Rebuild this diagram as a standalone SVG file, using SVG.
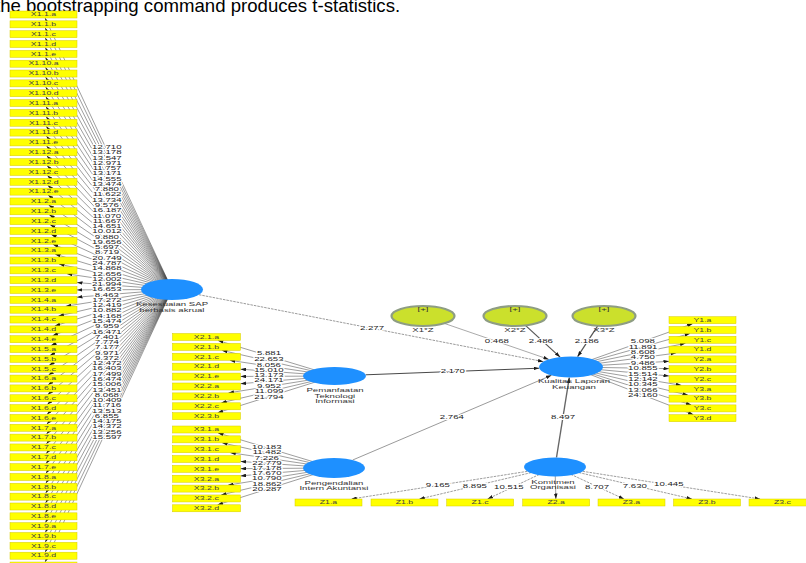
<svg xmlns="http://www.w3.org/2000/svg" width="806" height="563" viewBox="0 0 806 563">
<defs>
<marker id="a" viewBox="0 0 6 4" refX="6" refY="2" markerWidth="5.5" markerHeight="3.6" markerUnits="userSpaceOnUse" orient="auto" preserveAspectRatio="none"><path d="M0,0L6,2L0,4z" fill="#1a1a1a"/></marker>
</defs>
<style>
text{font-family:"Liberation Sans",Arial,sans-serif}
.b text,.v,.lv text,.m text{transform-box:fill-box;transform-origin:center;transform:scaleX(1.75)}
.b rect{fill:#ffff00;stroke:#d6cc00;stroke-width:0.5}
.b text{font-size:5px;fill:#444;text-anchor:middle}
.c path{fill:none;stroke:#3c3c3c;stroke-width:0.5;marker-end:url(#a)}
.c path.d{stroke-dasharray:2.5 1}
.v{font-size:5.5px;fill:#222;text-anchor:middle;stroke:#fff;stroke-width:1.8;stroke-linejoin:round;paint-order:stroke}
.lv ellipse{fill:#1e90ff}
.lv text,.m text{font-size:5.5px;fill:#333;text-anchor:middle}
.m ellipse{fill:#cbe02c;stroke:#8e9d83;stroke-width:2.2}
</style>
<rect width="806" height="563" fill="#fff"/>
<text x="-5" y="11.5" font-family="Liberation Serif, serif" font-size="18.6" fill="#000">the bootstrapping command produces t-statistics.</text>

<g id="connectors" class="c">
<path d="M172 289.5L45.1 18"/><path d="M172 289.5L45.2 27.84"/><path d="M172 289.5L45.26 37.68"/><path d="M172 289.5L45.33 47.52"/><path d="M172 289.5L45.41 57.36"/><path d="M172 289.5L45.49 67.2"/><path d="M172 289.5L45.58 77.04"/><path d="M172 289.5L45.68 86.88"/><path d="M172 289.5L45.79 96.72"/><path d="M172 289.5L45.91 106.56"/><path d="M172 289.5L46.05 116.4"/><path d="M172 289.5L46.2 126.24"/><path d="M172 289.5L46.37 136.08"/><path d="M172 289.5L46.56 145.92"/><path d="M172 289.5L46.78 155.76"/><path d="M172 289.5L47.03 165.6"/><path d="M172 289.5L47.33 175.44"/><path d="M172 289.5L47.68 185.28"/><path d="M172 289.5L48.09 195.12"/><path d="M172 289.5L48.61 204.96"/><path d="M172 289.5L49.25 214.8"/><path d="M172 289.5L50.08 224.64"/><path d="M172 289.5L51.19 234.48"/><path d="M172 289.5L52.74 244.32"/><path d="M172 289.5L55.08 254.16"/><path d="M172 289.5L59.01 264"/><path d="M172 289.5L66.97 273.84"/><path d="M172 289.5L77 282.61"/><path d="M172 289.5L77 289.88"/><path d="M172 289.5L77 297.16"/><path d="M172 289.5L65.77 306.2"/><path d="M172 289.5L58.47 316.04"/><path d="M172 289.5L54.78 325.88"/><path d="M172 289.5L52.55 335.72"/><path d="M172 289.5L51.05 345.56"/><path d="M172 289.5L49.98 355.4"/><path d="M172 289.5L49.18 365.24"/><path d="M172 289.5L48.55 375.08"/><path d="M172 289.5L48.05 384.92"/><path d="M172 289.5L47.64 394.76"/><path d="M172 289.5L47.29 404.6"/><path d="M172 289.5L47 414.44"/><path d="M172 289.5L46.75 424.28"/><path d="M172 289.5L46.54 434.12"/><path d="M172 289.5L46.35 443.96"/><path d="M172 289.5L46.18 453.8"/><path d="M172 289.5L46.03 463.64"/><path d="M172 289.5L45.9 473.48"/><path d="M172 289.5L45.78 483.32"/><path d="M172 289.5L45.67 493.16"/><path d="M172 289.5L45.57 503"/><path d="M172 289.5L45.48 512.84"/><path d="M172 289.5L45.4 522.68"/><path d="M172 289.5L45.32 532.52"/><path d="M172 289.5L45.25 542.36"/><path d="M172 289.5L45.19 552.2"/><path d="M172 289.5L45.13 562.04"/>

<path d="M334.5 376L217.99 340.5"/><path d="M334.5 376L221.9 350.4"/><path d="M334.5 376L229.83 360.3"/><path d="M334.5 376L240.5 369.17"/><path d="M334.5 376L240.5 376.44"/><path d="M334.5 376L240.5 383.71"/><path d="M334.5 376L228.46 392.9"/><path d="M334.5 376L221.29 402.8"/><path d="M334.5 376L217.64 412.7"/>

<path d="M334 468L218.09 433"/><path d="M334 468L222.08 442.85"/><path d="M334 468L230.24 452.7"/><path d="M334 468L240.5 461.44"/><path d="M334 468L240.5 468.66"/><path d="M334 468L240.5 475.88"/><path d="M334 468L228.16 485.1"/><path d="M334 468L221.16 494.95"/><path d="M334 468L217.57 504.8"/>

<path d="M571 367L692.67 323.7"/><path d="M571 367L690.06 333.5"/><path d="M571 367L685.58 343.3"/><path d="M571 367L676.05 353.1"/><path d="M571 367L669 361.34"/><path d="M571 367L669 368.64"/><path d="M571 367L669 375.94"/><path d="M571 367L681.39 385.3"/><path d="M571 367L687.94 395.1"/><path d="M571 367L691.38 404.9"/><path d="M571 367L693.51 414.7"/>

<path class="d" d="M555 467L351.3 499"/><path class="d" d="M555 467L419.3 499"/><path class="d" d="M555 467L487.6 499"/><path d="M555 467L555.9 499"/><path class="d" d="M555 467L624 499"/><path class="d" d="M555 467L692 499"/><path class="d" d="M555 467L760.1 499"/>

<path class="d" d="M198.9 294.7L543.5 361.65" style="stroke:#555;stroke-width:0.6"/>
<path d="M365.7 374.8L539.2 368.2" style="stroke:#333;stroke-width:0.9"/>
<path d="M352.7 460L551.5 375.3" style="stroke:#555;stroke-width:0.6"/>
<path d="M556.5 457.5L569.3 377.5" style="stroke:#666;stroke-width:1.4"/>
<path d="M444.3 323.4L548.9 359.4" style="stroke:#555;stroke-width:0.5"/>
<path d="M525.4 325.4L560.1 357.1" style="stroke:#555;stroke-width:1.2"/>
<path d="M597.7 325.8L577.6 356.7" style="stroke:#555;stroke-width:1.2"/>

<text class="v" x="107" y="149">12.710</text><text class="v" x="107" y="154.27">13.178</text><text class="v" x="107" y="159.55">13.547</text><text class="v" x="107" y="164.82">12.971</text><text class="v" x="107" y="170.09">11.757</text><text class="v" x="107" y="175.36">13.171</text><text class="v" x="107" y="180.64">14.555</text><text class="v" x="107" y="185.91">13.474</text><text class="v" x="107" y="191.18">7.880</text><text class="v" x="107" y="196.45">11.622</text><text class="v" x="107" y="201.73">13.734</text><text class="v" x="107" y="207">9.576</text><text class="v" x="107" y="212.27">16.187</text><text class="v" x="107" y="217.55">11.070</text><text class="v" x="107" y="222.82">11.667</text><text class="v" x="107" y="228.09">14.651</text><text class="v" x="107" y="233.36">10.012</text><text class="v" x="107" y="238.64">9.880</text><text class="v" x="107" y="243.91">19.656</text><text class="v" x="107" y="249.18">5.697</text><text class="v" x="107" y="254.45">8.719</text><text class="v" x="107" y="259.73">20.749</text><text class="v" x="107" y="265">24.787</text><text class="v" x="107" y="270.27">14.868</text><text class="v" x="107" y="275.55">12.656</text><text class="v" x="107" y="280.82">12.002</text><text class="v" x="107" y="286.09">21.994</text><text class="v" x="107" y="291.36">16.653</text><text class="v" x="107" y="296.64">8.463</text><text class="v" x="107" y="301.91">17.272</text><text class="v" x="107" y="307.18">12.419</text><text class="v" x="107" y="312.45">10.882</text><text class="v" x="107" y="317.73">14.168</text><text class="v" x="107" y="323">15.474</text><text class="v" x="107" y="328.27">9.959</text><text class="v" x="107" y="333.55">16.471</text><text class="v" x="107" y="338.82">7.401</text><text class="v" x="107" y="344.09">7.774</text><text class="v" x="107" y="349.36">7.177</text><text class="v" x="107" y="354.64">9.971</text><text class="v" x="107" y="359.91">9.372</text><text class="v" x="107" y="365.18">12.472</text><text class="v" x="107" y="370.45">16.403</text><text class="v" x="107" y="375.73">17.499</text><text class="v" x="107" y="381">16.474</text><text class="v" x="107" y="386.27">15.006</text><text class="v" x="107" y="391.55">13.451</text><text class="v" x="107" y="396.82">8.068</text><text class="v" x="107" y="402.09">10.409</text><text class="v" x="107" y="407.36">11.716</text><text class="v" x="107" y="412.64">13.513</text><text class="v" x="107" y="417.91">6.855</text><text class="v" x="107" y="423.18">14.175</text><text class="v" x="107" y="428.45">14.372</text><text class="v" x="107" y="433.73">13.256</text><text class="v" x="107" y="439">15.597</text>

<text class="v" x="269" y="355">5.881</text><text class="v" x="269" y="361">22.653</text><text class="v" x="269" y="367">8.056</text><text class="v" x="269" y="372">15.010</text><text class="v" x="269" y="377">13.173</text><text class="v" x="269" y="382">24.171</text><text class="v" x="269" y="388">9.952</text><text class="v" x="269" y="393">11.099</text><text class="v" x="269" y="399">21.794</text>

<text class="v" x="267" y="448.7">10.183</text><text class="v" x="267" y="454">11.482</text><text class="v" x="267" y="460">7.226</text><text class="v" x="267" y="465">22.779</text><text class="v" x="267" y="470">17.178</text><text class="v" x="267" y="475">17.670</text><text class="v" x="267" y="480">10.790</text><text class="v" x="267" y="486">18.862</text><text class="v" x="267" y="491">20.287</text>

<text class="v" x="643" y="343.3">5.098</text><text class="v" x="643" y="348.7">11.891</text><text class="v" x="643" y="354">8.608</text><text class="v" x="643" y="359.4">4.750</text><text class="v" x="643" y="364.8">9.486</text><text class="v" x="643" y="370.2">10.855</text><text class="v" x="643" y="375.6">15.514</text><text class="v" x="643" y="381">12.142</text><text class="v" x="643" y="386.4">10.345</text><text class="v" x="643" y="391.8">13.066</text><text class="v" x="643" y="397.2">24.160</text>

<text class="v" x="438" y="487.4">9.165</text><text class="v" x="475" y="488">8.895</text><text class="v" x="509" y="489">10.515</text><text class="v" x="597" y="489">8.707</text><text class="v" x="635" y="488">7.630</text><text class="v" x="669" y="486.4">10.445</text>

<text class="v" x="372" y="330.3">2.277</text>
<text class="v" x="453" y="373.5">2.170</text>
<text class="v" x="452" y="419.5">2.764</text>
<text class="v" x="563" y="419.5">8.497</text>
<text class="v" x="497" y="343.4">0.468</text>
<text class="v" x="541" y="343.4">2.486</text>
<text class="v" x="587" y="343.4">2.186</text>
</g>

<g id="X1_1_a" class="b"><rect x="10" y="11" width="67" height="7"/><text x="43.5" y="16.3">X1.1.a</text></g>
<g id="X1_1_b" class="b"><rect x="10" y="20.84" width="67" height="7"/><text x="43.5" y="26.14">X1.1.b</text></g>
<g id="X1_1_c" class="b"><rect x="10" y="30.68" width="67" height="7"/><text x="43.5" y="35.98">X1.1.c</text></g>
<g id="X1_1_d" class="b"><rect x="10" y="40.52" width="67" height="7"/><text x="43.5" y="45.82">X1.1.d</text></g>
<g id="X1_1_e" class="b"><rect x="10" y="50.36" width="67" height="7"/><text x="43.5" y="55.66">X1.1.e</text></g>
<g id="X1_10_a" class="b"><rect x="10" y="60.2" width="67" height="7"/><text x="43.5" y="65.5">X1.10.a</text></g>
<g id="X1_10_b" class="b"><rect x="10" y="70.04" width="67" height="7"/><text x="43.5" y="75.34">X1.10.b</text></g>
<g id="X1_10_c" class="b"><rect x="10" y="79.88" width="67" height="7"/><text x="43.5" y="85.18">X1.10.c</text></g>
<g id="X1_10_d" class="b"><rect x="10" y="89.72" width="67" height="7"/><text x="43.5" y="95.02">X1.10.d</text></g>
<g id="X1_11_a" class="b"><rect x="10" y="99.56" width="67" height="7"/><text x="43.5" y="104.86">X1.11.a</text></g>
<g id="X1_11_b" class="b"><rect x="10" y="109.4" width="67" height="7"/><text x="43.5" y="114.7">X1.11.b</text></g>
<g id="X1_11_c" class="b"><rect x="10" y="119.24" width="67" height="7"/><text x="43.5" y="124.54">X1.11.c</text></g>
<g id="X1_11_d" class="b"><rect x="10" y="129.08" width="67" height="7"/><text x="43.5" y="134.38">X1.11.d</text></g>
<g id="X1_11_e" class="b"><rect x="10" y="138.92" width="67" height="7"/><text x="43.5" y="144.22">X1.11.e</text></g>
<g id="X1_12_a" class="b"><rect x="10" y="148.76" width="67" height="7"/><text x="43.5" y="154.06">X1.12.a</text></g>
<g id="X1_12_b" class="b"><rect x="10" y="158.6" width="67" height="7"/><text x="43.5" y="163.9">X1.12.b</text></g>
<g id="X1_12_c" class="b"><rect x="10" y="168.44" width="67" height="7"/><text x="43.5" y="173.74">X1.12.c</text></g>
<g id="X1_12_d" class="b"><rect x="10" y="178.28" width="67" height="7"/><text x="43.5" y="183.58">X1.12.d</text></g>
<g id="X1_12_e" class="b"><rect x="10" y="188.12" width="67" height="7"/><text x="43.5" y="193.42">X1.12.e</text></g>
<g id="X1_2_a" class="b"><rect x="10" y="197.96" width="67" height="7"/><text x="43.5" y="203.26">X1.2.a</text></g>
<g id="X1_2_b" class="b"><rect x="10" y="207.8" width="67" height="7"/><text x="43.5" y="213.1">X1.2.b</text></g>
<g id="X1_2_c" class="b"><rect x="10" y="217.64" width="67" height="7"/><text x="43.5" y="222.94">X1.2.c</text></g>
<g id="X1_2_d" class="b"><rect x="10" y="227.48" width="67" height="7"/><text x="43.5" y="232.78">X1.2.d</text></g>
<g id="X1_2_e" class="b"><rect x="10" y="237.32" width="67" height="7"/><text x="43.5" y="242.62">X1.2.e</text></g>
<g id="X1_3_a" class="b"><rect x="10" y="247.16" width="67" height="7"/><text x="43.5" y="252.46">X1.3.a</text></g>
<g id="X1_3_b" class="b"><rect x="10" y="257" width="67" height="7"/><text x="43.5" y="262.3">X1.3.b</text></g>
<g id="X1_3_c" class="b"><rect x="10" y="266.84" width="67" height="7"/><text x="43.5" y="272.14">X1.3.c</text></g>
<g id="X1_3_d" class="b"><rect x="10" y="276.68" width="67" height="7"/><text x="43.5" y="281.98">X1.3.d</text></g>
<g id="X1_3_e" class="b"><rect x="10" y="286.52" width="67" height="7"/><text x="43.5" y="291.82">X1.3.e</text></g>
<g id="X1_4_a" class="b"><rect x="10" y="296.36" width="67" height="7"/><text x="43.5" y="301.66">X1.4.a</text></g>
<g id="X1_4_b" class="b"><rect x="10" y="306.2" width="67" height="7"/><text x="43.5" y="311.5">X1.4.b</text></g>
<g id="X1_4_c" class="b"><rect x="10" y="316.04" width="67" height="7"/><text x="43.5" y="321.34">X1.4.c</text></g>
<g id="X1_4_d" class="b"><rect x="10" y="325.88" width="67" height="7"/><text x="43.5" y="331.18">X1.4.d</text></g>
<g id="X1_4_e" class="b"><rect x="10" y="335.72" width="67" height="7"/><text x="43.5" y="341.02">X1.4.e</text></g>
<g id="X1_5_a" class="b"><rect x="10" y="345.56" width="67" height="7"/><text x="43.5" y="350.86">X1.5.a</text></g>
<g id="X1_5_b" class="b"><rect x="10" y="355.4" width="67" height="7"/><text x="43.5" y="360.7">X1.5.b</text></g>
<g id="X1_5_c" class="b"><rect x="10" y="365.24" width="67" height="7"/><text x="43.5" y="370.54">X1.5.c</text></g>
<g id="X1_6_a" class="b"><rect x="10" y="375.08" width="67" height="7"/><text x="43.5" y="380.38">X1.6.a</text></g>
<g id="X1_6_b" class="b"><rect x="10" y="384.92" width="67" height="7"/><text x="43.5" y="390.22">X1.6.b</text></g>
<g id="X1_6_c" class="b"><rect x="10" y="394.76" width="67" height="7"/><text x="43.5" y="400.06">X1.6.c</text></g>
<g id="X1_6_d" class="b"><rect x="10" y="404.6" width="67" height="7"/><text x="43.5" y="409.9">X1.6.d</text></g>
<g id="X1_6_e" class="b"><rect x="10" y="414.44" width="67" height="7"/><text x="43.5" y="419.74">X1.6.e</text></g>
<g id="X1_7_a" class="b"><rect x="10" y="424.28" width="67" height="7"/><text x="43.5" y="429.58">X1.7.a</text></g>
<g id="X1_7_b" class="b"><rect x="10" y="434.12" width="67" height="7"/><text x="43.5" y="439.42">X1.7.b</text></g>
<g id="X1_7_c" class="b"><rect x="10" y="443.96" width="67" height="7"/><text x="43.5" y="449.26">X1.7.c</text></g>
<g id="X1_7_d" class="b"><rect x="10" y="453.8" width="67" height="7"/><text x="43.5" y="459.1">X1.7.d</text></g>
<g id="X1_7_e" class="b"><rect x="10" y="463.64" width="67" height="7"/><text x="43.5" y="468.94">X1.7.e</text></g>
<g id="X1_8_a" class="b"><rect x="10" y="473.48" width="67" height="7"/><text x="43.5" y="478.78">X1.8.a</text></g>
<g id="X1_8_b" class="b"><rect x="10" y="483.32" width="67" height="7"/><text x="43.5" y="488.62">X1.8.b</text></g>
<g id="X1_8_c" class="b"><rect x="10" y="493.16" width="67" height="7"/><text x="43.5" y="498.46">X1.8.c</text></g>
<g id="X1_8_d" class="b"><rect x="10" y="503" width="67" height="7"/><text x="43.5" y="508.3">X1.8.d</text></g>
<g id="X1_8_e" class="b"><rect x="10" y="512.84" width="67" height="7"/><text x="43.5" y="518.14">X1.8.e</text></g>
<g id="X1_9_a" class="b"><rect x="10" y="522.68" width="67" height="7"/><text x="43.5" y="527.98">X1.9.a</text></g>
<g id="X1_9_b" class="b"><rect x="10" y="532.52" width="67" height="7"/><text x="43.5" y="537.82">X1.9.b</text></g>
<g id="X1_9_c" class="b"><rect x="10" y="542.36" width="67" height="7"/><text x="43.5" y="547.66">X1.9.c</text></g>
<g id="X1_9_d" class="b"><rect x="10" y="552.2" width="67" height="7"/><text x="43.5" y="557.5">X1.9.d</text></g>
<g id="X1_9_e" class="b"><rect x="10" y="562.04" width="67" height="7"/><text x="43.5" y="567.34">X1.9.e</text></g>

<g id="X2_1_a" class="b"><rect x="172.5" y="333.5" width="68" height="7"/><text x="206.5" y="338.8">X2.1.a</text></g>
<g id="X2_1_b" class="b"><rect x="172.5" y="343.4" width="68" height="7"/><text x="206.5" y="348.7">X2.1.b</text></g>
<g id="X2_1_c" class="b"><rect x="172.5" y="353.3" width="68" height="7"/><text x="206.5" y="358.6">X2.1.c</text></g>
<g id="X2_1_d" class="b"><rect x="172.5" y="363.2" width="68" height="7"/><text x="206.5" y="368.5">X2.1.d</text></g>
<g id="X2_1_e" class="b"><rect x="172.5" y="373.1" width="68" height="7"/><text x="206.5" y="378.4">X2.1.e</text></g>
<g id="X2_2_a" class="b"><rect x="172.5" y="383" width="68" height="7"/><text x="206.5" y="388.3">X2.2.a</text></g>
<g id="X2_2_b" class="b"><rect x="172.5" y="392.9" width="68" height="7"/><text x="206.5" y="398.2">X2.2.b</text></g>
<g id="X2_2_c" class="b"><rect x="172.5" y="402.8" width="68" height="7"/><text x="206.5" y="408.1">X2.2.c</text></g>
<g id="X2_3_b" class="b"><rect x="172.5" y="412.7" width="68" height="7"/><text x="206.5" y="418">X2.3.b</text></g>

<g id="X3_1_a" class="b"><rect x="172.5" y="426" width="68" height="7"/><text x="206.5" y="431.3">X3.1.a</text></g>
<g id="X3_1_b" class="b"><rect x="172.5" y="435.85" width="68" height="7"/><text x="206.5" y="441.15">X3.1.b</text></g>
<g id="X3_1_c" class="b"><rect x="172.5" y="445.7" width="68" height="7"/><text x="206.5" y="451">X3.1.c</text></g>
<g id="X3_1_d" class="b"><rect x="172.5" y="455.55" width="68" height="7"/><text x="206.5" y="460.85">X3.1.d</text></g>
<g id="X3_1_e" class="b"><rect x="172.5" y="465.4" width="68" height="7"/><text x="206.5" y="470.7">X3.1.e</text></g>
<g id="X3_2_a" class="b"><rect x="172.5" y="475.25" width="68" height="7"/><text x="206.5" y="480.55">X3.2.a</text></g>
<g id="X3_2_b" class="b"><rect x="172.5" y="485.1" width="68" height="7"/><text x="206.5" y="490.4">X3.2.b</text></g>
<g id="X3_2_c" class="b"><rect x="172.5" y="494.95" width="68" height="7"/><text x="206.5" y="500.25">X3.2.c</text></g>
<g id="X3_2_d" class="b"><rect x="172.5" y="504.8" width="68" height="7"/><text x="206.5" y="510.1">X3.2.d</text></g>

<g id="Y1_a" class="b"><rect x="669" y="316.7" width="67" height="7"/><text x="702.5" y="322">Y1.a</text></g>
<g id="Y1_b" class="b"><rect x="669" y="326.5" width="67" height="7"/><text x="702.5" y="331.8">Y1.b</text></g>
<g id="Y1_c" class="b"><rect x="669" y="336.3" width="67" height="7"/><text x="702.5" y="341.6">Y1.c</text></g>
<g id="Y1_d" class="b"><rect x="669" y="346.1" width="67" height="7"/><text x="702.5" y="351.4">Y1.d</text></g>
<g id="Y2_a" class="b"><rect x="669" y="355.9" width="67" height="7"/><text x="702.5" y="361.2">Y2.a</text></g>
<g id="Y2_b" class="b"><rect x="669" y="365.7" width="67" height="7"/><text x="702.5" y="371">Y2.b</text></g>
<g id="Y2_c" class="b"><rect x="669" y="375.5" width="67" height="7"/><text x="702.5" y="380.8">Y2.c</text></g>
<g id="Y3_a" class="b"><rect x="669" y="385.3" width="67" height="7"/><text x="702.5" y="390.6">Y3.a</text></g>
<g id="Y3_b" class="b"><rect x="669" y="395.1" width="67" height="7"/><text x="702.5" y="400.4">Y3.b</text></g>
<g id="Y3_c" class="b"><rect x="669" y="404.9" width="67" height="7"/><text x="702.5" y="410.2">Y3.c</text></g>
<g id="Y3_d" class="b"><rect x="669" y="414.7" width="67" height="7"/><text x="702.5" y="420">Y3.d</text></g>

<g id="Z1_a" class="b"><rect x="295" y="499" width="67" height="7"/><text x="328.5" y="504.3">Z1.a</text></g>
<g id="Z1_b" class="b"><rect x="371" y="499" width="67" height="7"/><text x="404.5" y="504.3">Z1.b</text></g>
<g id="Z1_c" class="b"><rect x="446.7" y="499" width="67" height="7"/><text x="480.2" y="504.3">Z1.c</text></g>
<g id="Z2_a" class="b"><rect x="522.7" y="499" width="67" height="7"/><text x="556.2" y="504.3">Z2.a</text></g>
<g id="Z3_a" class="b"><rect x="598" y="499" width="67" height="7"/><text x="631.5" y="504.3">Z3.a</text></g>
<g id="Z3_b" class="b"><rect x="673.5" y="499" width="67" height="7"/><text x="707" y="504.3">Z3.b</text></g>
<g id="Z3_c" class="b"><rect x="749" y="499" width="67" height="7"/><text x="782.5" y="504.3">Z3.c</text></g>

<g id="Kesesuaian" class="lv"><ellipse cx="172" cy="289.5" rx="31" ry="10.5"/><text x="172" y="306.5">Kesesuaian SAP</text><text x="172" y="311.8">berbasis akrual</text></g>
<g id="Pemanfaatan" class="lv"><ellipse cx="334.5" cy="376" rx="31.5" ry="9"/><text x="335" y="392.5">Pemanfaatan</text><text x="335" y="397.7">Teknologi</text><text x="335" y="402.9">Informasi</text></g>
<g id="Pengendalian" class="lv"><ellipse cx="334" cy="468" rx="31" ry="10"/><text x="334" y="485">Pengendalian</text><text x="334" y="490.5">Intern Akuntansi</text></g>
<g id="Kualitas" class="lv"><ellipse cx="571" cy="367" rx="32" ry="10.5"/><text x="574" y="383.5">Kualitas Laporan</text><text x="574" y="388.8">Keuangan</text></g>
<g id="Komitmen" class="lv"><ellipse cx="555" cy="467" rx="31" ry="9.5"/><text x="553" y="484">Komitmen</text><text x="553" y="489.5">Organisasi</text></g>

<g id="Mod1" class="m"><ellipse cx="423" cy="316" rx="31.5" ry="10"/><text x="423" y="311.5">[+]</text><text x="423" y="332">X1*Z</text></g>
<g id="Mod2" class="m"><ellipse cx="515" cy="316" rx="31.5" ry="10"/><text x="515" y="311.5">[+]</text><text x="515" y="332">X2*Z</text></g>
<g id="Mod3" class="m"><ellipse cx="604" cy="316" rx="31.5" ry="10"/><text x="604" y="311.5">[+]</text><text x="604" y="332">X3*Z</text></g>
</svg>
